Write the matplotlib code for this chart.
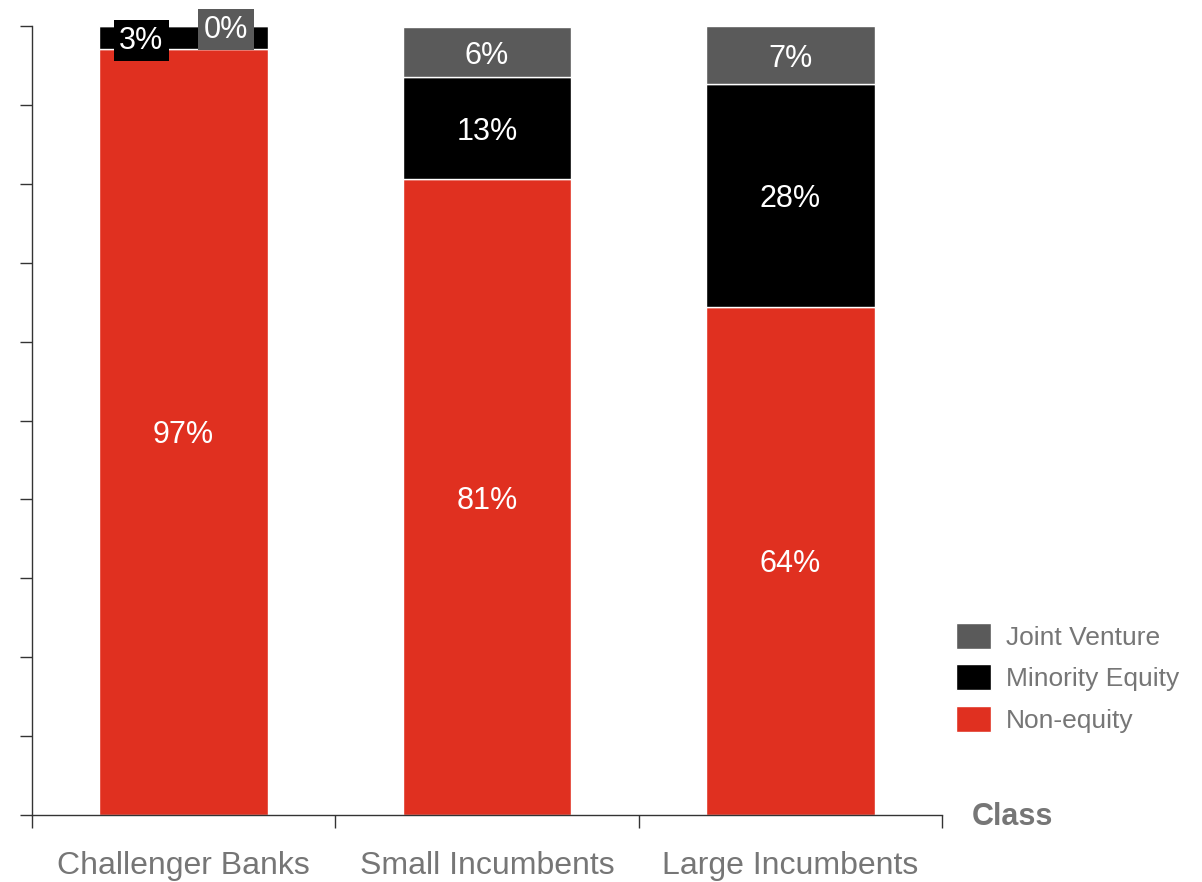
import numpy as np
import matplotlib.pyplot as plt
from matplotlib.ticker import FixedLocator

plt.rcParams['font.family'] = ['Liberation Sans', 'DejaVu Sans']

# share of deals by type for each class of bank (%)
classes = ['Challenger Banks', 'Small Incumbents', 'Large Incumbents']
non_equity = [97.1, 80.6, 64.4]
minority_equity = [2.9, 12.9, 28.2]
joint_venture = [0.0, 6.4, 7.4]

red = '#E03020'
black = '#000000'
grey = '#5A5A5A'
txt_grey = '#767676'

fig = plt.figure(figsize=(12.02, 8.82), dpi=100)
ax = fig.add_axes([32/1202, 67/882, 910/1202, 789/882])

x = np.arange(len(classes))
w = 0.555
ne = np.array(non_equity)
me = np.array(minority_equity)
jv = np.array(joint_venture)

b1 = ax.bar(x, ne, w, color=red, edgecolor='white', linewidth=1, label='Non-equity')
b2 = ax.bar(x, me, w, bottom=ne, color=black, edgecolor='white', linewidth=1, label='Minority Equity')
b3 = ax.bar(x, jv, w, bottom=ne + me, color=grey, edgecolor='white', linewidth=1, label='Joint Venture')

lab = dict(ha='center', va='center_baseline', color='white', fontsize=22)

# segment labels
for i in range(len(classes)):
    ax.text(x[i], ne[i] / 2, f'{ne[i]:.0f}%', **lab)
    if i == 0:
        # tiny segments: offset labels with boxes in the segment colour
        ax.text(x[i] - 0.14, ne[i] + me[i] / 2, f'{me[i]:.0f}%', **lab,
                bbox=dict(facecolor=black, edgecolor='none', pad=4))
        ax.text(x[i] + 0.14, ne[i] + me[i] + jv[i], f'{jv[i]:.0f}%', **lab,
                bbox=dict(facecolor=grey, edgecolor='none', pad=4))
    else:
        ax.text(x[i], ne[i] + me[i] / 2, f'{me[i]:.0f}%', **lab)
        ax.text(x[i], ne[i] + me[i] + jv[i] / 2, f'{jv[i]:.0f}%', **lab)

ax.set_xlim(-0.5, 2.5)
ax.set_ylim(0, 100)
ax.set_yticks(np.arange(0, 101, 10))
ax.set_yticklabels([])
ax.tick_params(axis='y', length=9, width=1, color='#333333', direction='out')

ax.xaxis.set_major_locator(FixedLocator([-0.5, 0.5, 1.5, 2.5]))
ax.xaxis.set_minor_locator(FixedLocator(x))
ax.set_xticklabels([], minor=False)
ax.set_xticklabels(classes, minor=True)
ax.tick_params(axis='x', which='major', length=9, width=1, color='#333333')
ax.tick_params(axis='x', which='minor', length=0, pad=26, labelsize=23, labelcolor=txt_grey)

for s in ['top', 'right']:
    ax.spines[s].set_visible(False)
for s in ['left', 'bottom']:
    ax.spines[s].set_color('#333333')
    ax.spines[s].set_linewidth(1)

ax.legend(handles=[b3, b2, b1], loc='upper left', bbox_to_anchor=(932/1202, 1 - 599/882),
          bbox_transform=fig.transFigure, frameon=False, fontsize=19,
          labelcolor=txt_grey, handlelength=1.35, handleheight=1.15,
          labelspacing=0.55, handletextpad=0.55)

fig.text(972/1202, 1 - 817/882, 'Class', fontsize=22, fontweight='bold',
         color=txt_grey, ha='left', va='center')

fig.savefig('out.png', dpi=100)
